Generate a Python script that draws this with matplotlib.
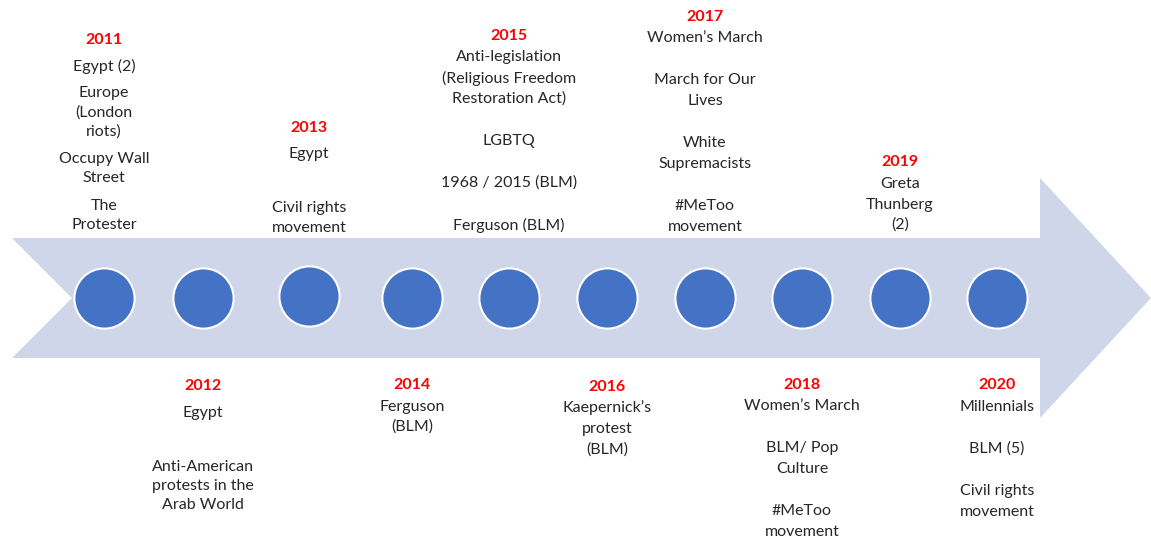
import matplotlib.pyplot as plt
from matplotlib.patches import Polygon

# data
years = ["2011", "2012", "2013", "2014", "2015", "2016", "2017", "2018", "2019", "2020"]
events = [
    ["Egypt (2)", "Europe\n(London\nriots)", "Occupy Wall\nStreet", "The\nProtester"],
    ["Egypt", "Anti-American\nprotests in the\nArab World"],
    ["Egypt", "Civil rights\nmovement"],
    ["Ferguson\n(BLM)"],
    ["Anti-legislation\n(Religious Freedom\nRestoration Act)", "LGBTQ", "1968 / 2015 (BLM)", "Ferguson (BLM)"],
    ["Kaepernick\u2019s\nprotest\n(BLM)"],
    ["Women\u2019s March", "March for Our\nLives", "White\nSupremacists", "#MeToo\nmovement"],
    ["Women\u2019s March", "BLM/ Pop\nCulture", "#MeToo\nmovement"],
    ["Greta\nThunberg\n(2)"],
    ["Millennials", "BLM (5)", "Civil rights\nmovement"],
]

# layout (pixels): circle centres, then per event year y, gap to first item,
# line height, extra gap between items
circle_x = [104, 203, 309, 412, 509, 607, 705, 802, 900, 997]
circle_y = [298, 298, 296, 298, 298, 298, 298, 298, 298, 298]
layout = [
    (38, 26, 19.5, 7.5),
    (384, 27, 19, 35),
    (126, 26, 19.5, 34.5),
    (383, 22, 20, 0),
    (34, 21, 21, 21),
    (385, 21, 21, 0),
    (15, 21, 21, 21),
    (383, 21, 21, 21),
    (160, 22, 20.5, 0),
    (383, 22, 21, 21),
]

W, H = 1151, 541
fig = plt.figure(figsize=(W / 100, H / 100), dpi=100)
ax = fig.add_axes([0, 0, 1, 1])
ax.set_xlim(0, W)
ax.set_ylim(H, 0)
ax.axis("off")

# big arrow
arrow = [(12, 238), (1040, 238), (1040, 178), (1151, 298),
         (1040, 418), (1040, 358), (12, 358), (72, 298)]
ax.add_patch(Polygon(arrow, closed=True, facecolor="#D0D6EA", edgecolor="none"))

ax.scatter(circle_x, circle_y, s=1880, color="#4472C4", edgecolors="white", linewidths=1.5, zorder=3)

font = "Lato"
off = 2
for cx, yr, items, lay in zip(circle_x, years, events, layout):
    y0, first, lh, extra = lay
    ax.text(cx, y0 + off, yr, ha="center", va="center", color="#FF0000", fontweight="bold",
            fontsize=11.5, family=font)
    y = y0 + first + off
    for item in items:
        for line in item.split("\n"):
            ax.text(cx, y, line, ha="center", va="center", color="#262626", fontsize=11.5, family=font)
            y += lh
        y += extra

fig.savefig("out.png", dpi=100)
